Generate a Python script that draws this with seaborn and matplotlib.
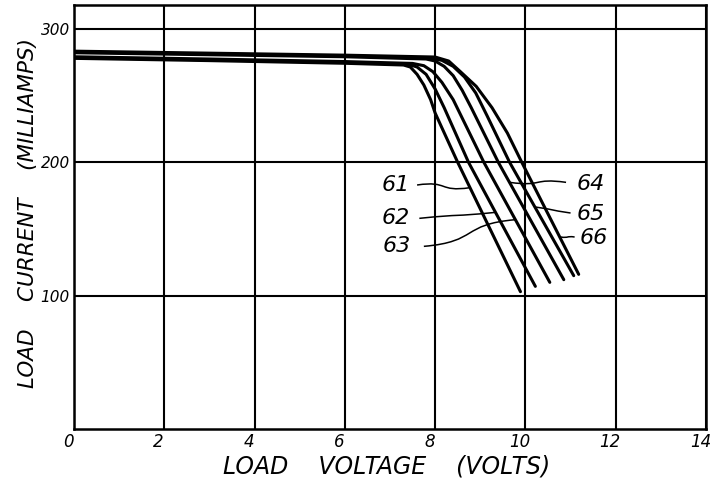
import matplotlib
matplotlib.use("Agg")
import matplotlib.pyplot as plt
import matplotlib.transforms as mtransforms
from matplotlib.path import Path
from matplotlib.patches import PathPatch
import pandas as pd
import seaborn as sns

# curve numbers as printed on the drawing
curve_ids = ["61", "62", "63", "64", "65", "66"]

# load voltage (V) / load current (mA)
v61 = [0, 3, 6, 7.3, 7.45, 7.6, 7.75, 7.9, 8.0, 8.5, 9.89]
i61 = [278.0, 276.3, 274.3, 273.0, 271.5, 266, 258, 247, 237, 200, 103]
v62 = [0, 3, 6, 7.4, 7.6, 7.8, 8.0, 8.2, 8.74, 10.22]
i62 = [278.6, 276.9, 275.0, 273.6, 271.5, 266, 255, 241, 200, 107]
v63 = [0, 3, 6, 7.5, 7.75, 7.95, 8.15, 8.4, 9.08, 10.54]
i63 = [279.2, 277.5, 275.6, 274.2, 272.5, 268, 260, 247, 200, 110]
v64 = [0, 3, 6, 7.8, 8.0, 8.2, 8.4, 8.6, 8.8, 9.4, 10.85]
i64 = [282.2, 280.7, 279.2, 277.5, 276, 272, 265, 254, 241, 200, 112]
v65 = [0, 3, 6, 7.9, 8.15, 8.4, 8.65, 8.9, 9.15, 9.65, 11.07]
i65 = [282.8, 281.3, 279.8, 278.3, 276.5, 272, 264, 252, 235, 200, 115]
v66 = [0, 3, 6, 8.0, 8.3, 8.56, 8.91, 9.26, 9.6, 9.92, 11.18]
i66 = [283.4, 281.9, 280.4, 279.0, 276, 268, 257, 241, 222, 200, 116]

volts = [v61, v62, v63, v64, v65, v66]
amps = [i61, i62, i63, i64, i65, i66]

# where each reference numeral sits, and its leader (start -> point on curve)
label_x = [7.12, 7.12, 7.15, 11.44, 11.44, 11.52]
label_y = [183, 158, 137, 184, 161, 143]
leader_from = [(7.6, 183), (7.65, 158), (7.75, 137), (10.9, 185), (11.0, 162), (11.09, 144)]
leader_to = [(8.77, 181), (9.34, 162.5), (9.78, 157), (9.65, 185), (10.22, 166.5), (10.78, 144)]

x_ticks = [0, 2, 4, 6, 8, 10, 12, 14]
y_ticks = [100, 200, 300]

rows = []
for cid, vs, ms in zip(curve_ids, volts, amps):
    for k, (v, m) in enumerate(zip(vs, ms)):
        rows.append({"curve": cid, "order": k, "volts": v, "ma": m})
df = pd.DataFrame(rows)

sns.set_style("white")
plt.rcParams["font.family"] = ["DejaVu Sans"]
plt.rcParams["text.color"] = "black"
plt.rcParams["axes.labelcolor"] = "black"
plt.rcParams["xtick.color"] = "black"
plt.rcParams["ytick.color"] = "black"

fig = plt.figure(figsize=(7.15, 4.83), dpi=100)
ax = fig.add_axes([0.1035, 0.1118, 0.8839, 0.8778])

sns.lineplot(data=df, x="volts", y="ma", units="curve", estimator=None, sort=False,
             color="black", lw=2.2, ax=ax, legend=False)

ax.set_xlim(0, 14)
ax.set_ylim(0, 318)
ax.set_xticks(x_ticks)
ax.set_xticklabels([str(t) for t in x_ticks], fontstyle="italic", fontsize=12)
ax.set_yticks(y_ticks)
ax.set_yticklabels([str(t) for t in y_ticks], fontstyle="italic", fontsize=11)
ax.tick_params(length=0, pad=3)
shift = mtransforms.ScaledTranslation(-4 / 72, 0, fig.dpi_scale_trans)
for lab in ax.get_xticklabels():
    lab.set_transform(lab.get_transform() + shift)
ax.grid(True, color="black", lw=1.5)
for s in ax.spines.values():
    s.set_visible(True)
    s.set_color("black")
    s.set_linewidth(1.8)

ax.set_xlabel("LOAD    VOLTAGE    (VOLTS)", fontsize=17, fontstyle="italic")
ax.set_ylabel("LOAD    CURRENT    (MILLIAMPS)", fontsize=15.5, fontstyle="italic")
ax.xaxis.set_label_coords(0.495, -0.06)
ax.yaxis.set_label_coords(-0.057, 0.51)

# reference numerals with wavy leader lines
for cid, tx, ty, p0, p1 in zip(curve_ids, label_x, label_y, leader_from, leader_to):
    ax.text(tx, ty, cid, fontsize=16, fontstyle="italic", ha="center", va="center")
    dx = p1[0] - p0[0]
    dip = min(3.5, 3.0 * abs(dx))
    verts = [p0, (p0[0] + 0.6 * dx, p0[1] + dip), (p0[0] + 0.4 * dx, p1[1] - dip), p1]
    codes = [Path.MOVETO, Path.CURVE4, Path.CURVE4, Path.CURVE4]
    ax.add_patch(PathPatch(Path(verts, codes), fill=False, lw=1.1, color="black"))

fig.savefig("out.png", dpi=100)
